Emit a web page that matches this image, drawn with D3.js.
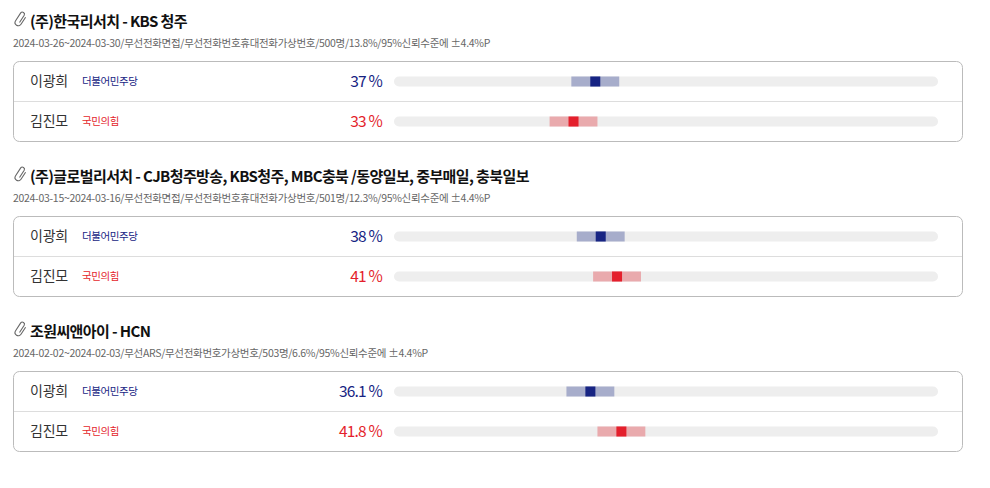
<!DOCTYPE html>
<html>
<head>
<meta charset="utf-8">
<script src="https://cdn.jsdelivr.net/npm/d3@7"></script>
<style>
  body { margin: 0; background: #fff; }
  text { font-family: "Noto Sans CJK KR", "Noto Sans", sans-serif; }
</style>
</head>
<body>
<div id="chart"></div>
<script>
// Poll data
const titles = [
    "(주)한국리서치 - KBS 청주",
    "(주)글로벌리서치 - CJB청주방송, KBS청주, MBC충북 /동양일보, 중부매일, 충북일보",
    "조원씨앤아이 - HCN"
];
const subtitles = [
    "2024-03-26~2024-03-30/무선전화면접/무선전화번호휴대전화가상번호/500명/13.8%/95%신뢰수준에 ±4.4%P",
    "2024-03-15~2024-03-16/무선전화면접/무선전화번호휴대전화가상번호/501명/12.3%/95%신뢰수준에 ±4.4%P",
    "2024-02-02~2024-02-03/무선ARS/무선전화번호가상번호/503명/6.6%/95%신뢰수준에 ±4.4%P"
];
const candidates = ["이광희", "김진모"];
const parties = ["더불어민주당", "국민의힘"];
const pollValues = [
    [37, 33],
    [38, 41],
    [36.1, 41.8]
];
const marginOfError = [4.4, 4.4, 4.4];

const svgWidth = 990;
const svgHeight = 488;

const darkColors = ["#172483", "#e41f2c"];
const lightColors = ["#a7adcb", "#e9aaad"];

const svg = d3.select("#chart")
    .append("svg")
    .attr("width", svgWidth)
    .attr("height", svgHeight);

// percent scale over the grey track
const x = d3.scaleLinear()
    .domain([0, 100])
    .range([394, 938]);

const sectionGap = 155;
const rowH = 40;
const barH = 10;

titles.forEach((title, i) => {
    const g = svg.append("g")
        .attr("transform", `translate(0, ${i * sectionGap})`);

    // paperclip icon
    g.append("path")
        .attr("d", "M19.5,25.5 L24.2,18.2 a2.1,2.1 0 0 0 -3.5,-2.3 L15.6,23.8 a3.2,3.2 0 0 0 5.4,3.5 L25.6,20.2")
        .attr("fill", "none")
        .attr("stroke", "#666")
        .attr("stroke-width", 1.1)
        .attr("transform", "translate(0,-3)");

    g.append("text")
        .attr("x", 30)
        .attr("y", 27)
        .attr("font-size", 15)
        .attr("font-weight", 700)
        .attr("letter-spacing", -0.6)
        .attr("fill", "#111")
        .text(title);

    g.append("text")
        .attr("x", 13)
        .attr("y", 47)
        .attr("font-size", 10.5)
        .attr("letter-spacing", -0.3)
        .attr("fill", "#666")
        .text(subtitles[i]);

    // box
    g.append("rect")
        .attr("x", 13.5)
        .attr("y", 61.5)
        .attr("width", 949)
        .attr("height", rowH * 2)
        .attr("rx", 6)
        .attr("fill", "#fff")
        .attr("stroke", "#bbb");

    g.append("line")
        .attr("x1", 14)
        .attr("x2", 962)
        .attr("y1", 101.5)
        .attr("y2", 101.5)
        .attr("stroke", "#ddd");

    const rows = g.selectAll("g.row")
        .data(pollValues[i])
        .join("g")
        .attr("class", "row")
        .attr("transform", (d, j) => `translate(0, ${61.5 + j * rowH + rowH / 2})`);

    rows.append("text")
        .attr("x", 30)
        .attr("y", 0)
        .attr("dy", "0.35em")
        .attr("font-size", 14)
        .attr("letter-spacing", -0.2)
        .attr("fill", "#333")
        .text((d, j) => candidates[j]);

    rows.append("text")
        .attr("x", 82)
        .attr("y", 0)
        .attr("dy", "0.35em")
        .attr("font-size", 10.5)
        .attr("letter-spacing", -0.4)
        .attr("fill", (d, j) => darkColors[j])
        .text((d, j) => parties[j]);

    rows.append("text")
        .attr("x", 382)
        .attr("y", 0)
        .attr("dy", "0.35em")
        .attr("text-anchor", "end")
        .attr("font-size", 15.5)
        .attr("font-weight", 400)
        .attr("letter-spacing", -0.8)
        .attr("fill", (d, j) => darkColors[j])
        .text(d => `${d} %`);

    rows.append("rect")
        .attr("x", x(0))
        .attr("y", -barH / 2)
        .attr("width", x(100) - x(0))
        .attr("height", barH)
        .attr("rx", barH / 2)
        .attr("fill", "#eeeeee");

    rows.append("rect")
        .attr("x", d => x(d - marginOfError[i]))
        .attr("y", -barH / 2)
        .attr("width", d => x(d + marginOfError[i]) - x(d - marginOfError[i]))
        .attr("height", barH)
        .attr("fill", (d, j) => lightColors[j]);

    rows.append("rect")
        .attr("x", d => x(d) - 5)
        .attr("y", -barH / 2)
        .attr("width", 10)
        .attr("height", barH)
        .attr("fill", (d, j) => darkColors[j]);
});
</script>
</body>
</html>
